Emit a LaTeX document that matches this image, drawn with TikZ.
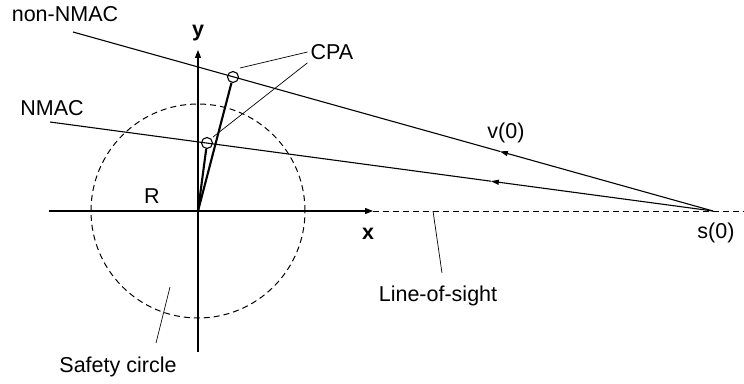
\documentclass[tikz,border=0pt]{standalone}
\usepackage{fontspec}
\setmainfont{Liberation Sans}
\usetikzlibrary{arrows.meta, calc}
\tikzset{
  axis/.style={-{Triangle[length=8pt, width=6pt]}, line width=1.1pt},
  track/.style={line width=1.1pt},
  heading/.style={-{Triangle[length=8pt, width=5pt]}, line width=1.1pt},
  losline/.style={dashed, dash pattern=on 6pt off 4pt, line width=1pt},
  safety/.style={dashed, dash pattern=on 6pt off 4pt, line width=1pt},
  cpavec/.style={line width=2.1pt},
  cpamark/.style={draw, circle, line width=1.1pt, minimum size=11pt, inner sep=0pt},
  leader/.style={line width=0.7pt},
  lbl/.style={font=\fontsize{21.5}{24}\selectfont, inner sep=3pt}
}

\begin{document}
\begin{tikzpicture}[x=1pt, y=1pt]
  \useasboundingbox (-198,-172) rectangle (546,211);

  % own ship at the origin, intruder at s(0)
  \coordinate (O) at (0,0);
  \coordinate (s0) at (515,0);
  \coordinate (xstart) at (-149,0);
  \coordinate (xend) at (175,0);
  \coordinate (ystart) at (0,-141);
  \coordinate (yend) at (0,161);
  \coordinate (losend) at (546,0);
  \coordinate (farstart) at (-125,179);
  \coordinate (nearstart) at (-148,89);
  \coordinate (farmid) at ($(s0)!0.333!(farstart)$);
  \coordinate (nearmid) at ($(s0)!0.335!(nearstart)$);

  % safety circle
  \draw[safety] (O) circle (107pt);

  % axes and line of sight
  \draw[axis] (xstart) -- (xend);
  \draw[axis] (ystart) -- (yend);
  \draw[losline] (xend) -- (losend);

  % relative tracks
  \draw[heading] (s0) -- (farmid);
  \draw[track] (farmid) -- (farstart);
  \draw[heading] (s0) -- (nearmid);
  \draw[track] (nearmid) -- (nearstart);

  % closest points of approach
  \node[cpamark] (cpaA) at (35,134) {};
  \node[cpamark] (cpaB) at (9,68) {};
  \draw[cpavec] (O) -- (cpaA);
  \draw[cpavec] (O) -- (cpaB);

  % labels
  \node[lbl] (nonnmac) at (-133,197) {non-NMAC};
  \node[lbl] (nmac) at (-146,103) {NMAC};
  \node[lbl] (ylbl) at (0,178) {\textbf{y}};
  \node[lbl] (xlbl) at (170,-23) {\textbf{x}};
  \node[lbl] (rlbl) at (-46,15) {R};
  \node[lbl] (cpa) at (134,159) {CPA};
  \node[lbl] (vlbl) at (308,78) {v(0)};
  \node[lbl] (slbl) at (518,-22) {s(0)};
  \node[lbl] (los) at (240,-85) {Line-of-sight};
  \node[lbl] (circ) at (-80,-156) {Safety circle};

  % leaders
  \coordinate (leadA) at (42,143);
  \coordinate (leadB) at (15,74);
  \coordinate (leadlos) at (235,0);
  \coordinate (leadlosend) at (244,-62);
  \coordinate (leadcirc) at (-28,-76);
  \coordinate (leadcircend) at (-42,-132);
  \draw[leader] (leadA) -- (cpa.west);
  \draw[leader] (leadB) -- (cpa.south west);
  \draw[leader] (leadlos) -- (leadlosend);
  \draw[leader] (leadcirc) -- (leadcircend);
\end{tikzpicture}
\end{document}
